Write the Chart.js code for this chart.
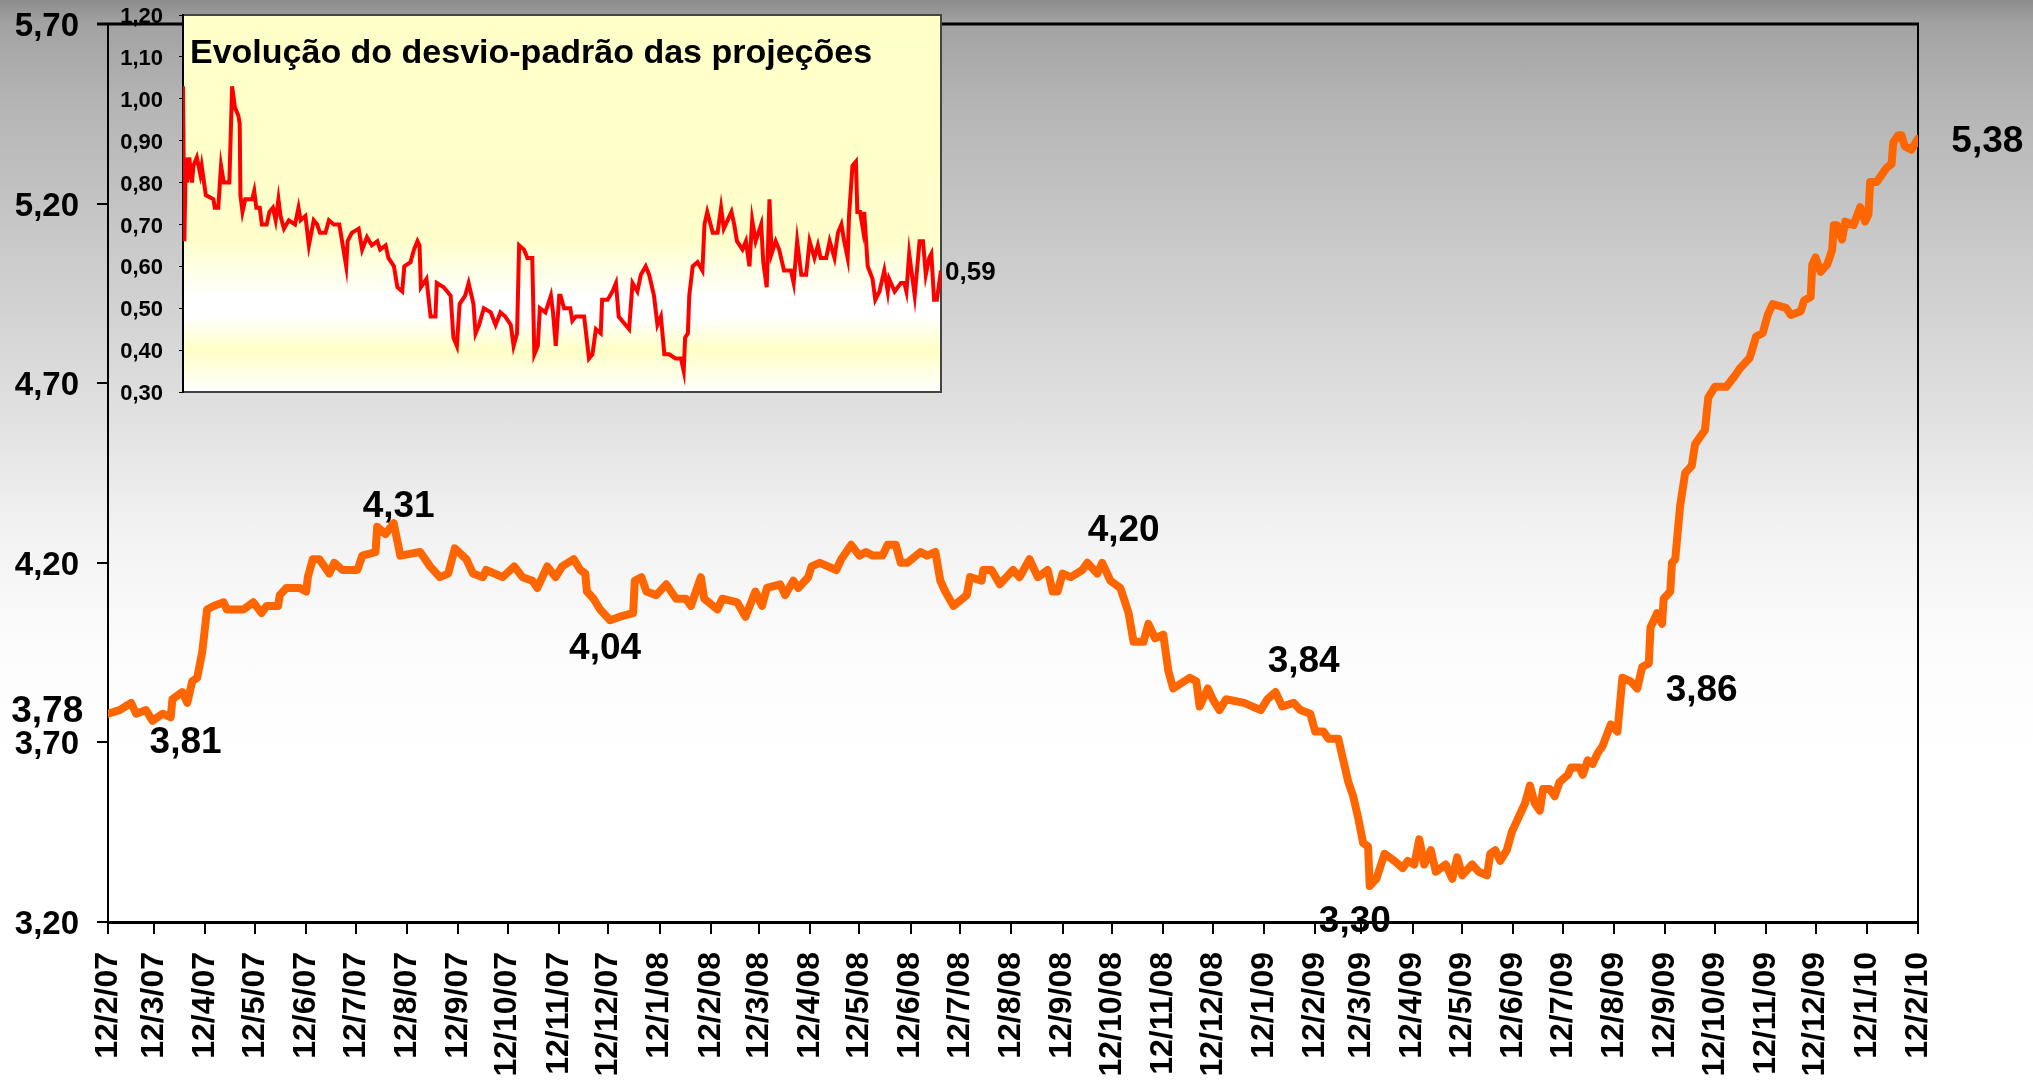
<!DOCTYPE html>
<html>
<head>
<meta charset="utf-8">
<script src="https://cdn.jsdelivr.net/npm/chart.js@4.4.0/dist/chart.umd.min.js"></script>
<style>
  html, body { margin: 0; padding: 0; }
  body {
    width: 2033px; height: 1086px; position: relative; overflow: hidden;
    background: linear-gradient(to bottom, #8c8c8c 0px, #a2a2a2 23px, #b4b4b4 100px, #c8c8c8 233px,
      #e1e1e1 417px, #f2f2f2 530px, #fcfcfc 650px, #ffffff 760px);
  }
  canvas { position: absolute; left: 0; top: 0; }
</style>
</head>
<body>
<canvas id="main" width="2033" height="1086"></canvas>
<canvas id="inset" width="1000" height="420"></canvas>
<script>
// dias contados a partir de 12/2/07
const tickLabels = ['12/2/07', '12/3/07', '12/4/07', '12/5/07', '12/6/07', '12/7/07', '12/8/07', '12/9/07',
    '12/10/07', '12/11/07', '12/12/07', '12/1/08', '12/2/08', '12/3/08', '12/4/08', '12/5/08', '12/6/08',
    '12/7/08', '12/8/08', '12/9/08', '12/10/08', '12/11/08', '12/12/08', '12/1/09', '12/2/09', '12/3/09',
    '12/4/09', '12/5/09', '12/6/09', '12/7/09', '12/8/09', '12/9/09', '12/10/09', '12/11/09', '12/12/09',
    '12/1/10', '12/2/10'];
const yTicks = [3.2, 3.7, 4.2, 4.7, 5.2, 5.7];
const devTicks = [0.3, 0.4, 0.5, 0.6, 0.7, 0.8, 0.9, 1.0, 1.1, 1.2];

// projeção (linha laranja)
const mainDays = [0, 7, 14, 17, 23, 27, 33, 38, 39, 45, 48, 51, 54, 57, 59, 60, 64, 70, 72, 82, 88, 93, 96, 103,
    104, 108, 116, 120, 121, 124, 128, 134, 137, 142, 151, 154, 162, 163, 168, 173, 177, 189, 195, 201, 206,
    210, 217, 221, 227, 229, 239, 246, 251, 257, 260, 266, 271, 275, 282, 286, 289, 290, 294, 298, 304, 310,
    318, 319, 323, 326, 332, 338, 344, 350, 353, 359, 361, 369, 372, 381, 386, 392, 396, 399, 407, 410, 415,
    418, 424, 426, 431, 441, 444, 450, 455, 459, 463, 469, 472, 477, 480, 484, 492, 496, 501, 504, 507, 512,
    520, 522, 529, 530, 535, 540, 548, 552, 558, 563, 569, 572, 575, 578, 583, 590, 593, 599, 602, 607, 613,
    618, 621, 627, 630, 634, 639, 642, 645, 655, 659, 661, 666, 669, 673, 677, 688, 698, 702, 707, 711, 718,
    722, 728, 731, 736, 739, 745, 748, 751, 754, 757, 760, 763, 764, 768, 773, 779, 784, 787, 791, 794, 797,
    801, 804, 810, 814, 817, 820, 826, 830, 835, 837, 840, 843, 847, 850, 855, 858, 861, 864, 867, 869, 873,
    876, 879, 884, 886, 891, 893, 896, 899, 902, 905, 910, 914, 917, 922, 926, 929, 933, 934, 938, 941, 942,
    946, 947, 949, 952, 955, 959, 961, 964, 967, 969, 973, 980, 985, 988, 994, 998, 1002, 1005, 1008, 1016,
    1019, 1025, 1027, 1031, 1032, 1034, 1037, 1041, 1044, 1045, 1047, 1050, 1052, 1057, 1061, 1064, 1066,
    1067, 1071, 1074, 1077, 1080, 1081, 1084, 1086, 1088, 1092, 1096];
const mainValues = [3.78, 3.79, 3.81, 3.78, 3.79, 3.76, 3.78, 3.77, 3.82, 3.84, 3.81, 3.87, 3.88, 3.95, 4.03,
    4.07, 4.08, 4.09, 4.07, 4.07, 4.09, 4.06, 4.08, 4.08, 4.11, 4.13, 4.13, 4.12, 4.16, 4.21, 4.21, 4.17, 4.20,
    4.18, 4.18, 4.22, 4.23, 4.30, 4.28, 4.31, 4.22, 4.23, 4.19, 4.16, 4.17, 4.24, 4.21, 4.17, 4.16, 4.18, 4.16,
    4.19, 4.16, 4.15, 4.13, 4.19, 4.16, 4.19, 4.21, 4.18, 4.17, 4.12, 4.10, 4.07, 4.04, 4.05, 4.06, 4.15, 4.16,
    4.12, 4.11, 4.14, 4.10, 4.10, 4.08, 4.16, 4.10, 4.07, 4.10, 4.09, 4.05, 4.12, 4.08, 4.13, 4.14, 4.11, 4.15,
    4.13, 4.16, 4.19, 4.20, 4.18, 4.21, 4.25, 4.22, 4.23, 4.22, 4.22, 4.25, 4.25, 4.20, 4.20, 4.23, 4.22, 4.23,
    4.15, 4.12, 4.08, 4.11, 4.16, 4.15, 4.18, 4.18, 4.14, 4.18, 4.16, 4.21, 4.16, 4.18, 4.12, 4.12, 4.17, 4.16,
    4.18, 4.20, 4.17, 4.20, 4.15, 4.13, 4.06, 3.98, 3.98, 4.03, 3.99, 4.00, 3.90, 3.85, 3.88, 3.87, 3.80, 3.85,
    3.82, 3.79, 3.82, 3.81, 3.79, 3.82, 3.84, 3.80, 3.81, 3.79, 3.78, 3.73, 3.73, 3.71, 3.71, 3.65, 3.59, 3.55,
    3.49, 3.42, 3.41, 3.30, 3.32, 3.39, 3.37, 3.35, 3.37, 3.36, 3.43, 3.36, 3.40, 3.34, 3.36, 3.32, 3.38, 3.33,
    3.36, 3.34, 3.33, 3.39, 3.40, 3.37, 3.40, 3.45, 3.50, 3.53, 3.58, 3.53, 3.51, 3.57, 3.57, 3.55, 3.59, 3.61,
    3.63, 3.63, 3.61, 3.65, 3.64, 3.67, 3.69, 3.75, 3.73, 3.88, 3.87, 3.85, 3.91, 3.92, 4.02, 4.06, 4.03, 4.10,
    4.12, 4.20, 4.21, 4.36, 4.45, 4.47, 4.53, 4.55, 4.57, 4.66, 4.69, 4.69, 4.72, 4.74, 4.77, 4.83, 4.84, 4.89,
    4.92, 4.91, 4.89, 4.90, 4.93, 4.94, 5.03, 5.05, 5.01, 5.03, 5.07, 5.14, 5.14, 5.10, 5.15, 5.14, 5.19, 5.15,
    5.17, 5.26, 5.26, 5.28, 5.30, 5.31, 5.37, 5.39, 5.39, 5.36, 5.35, 5.38];

// desvio-padrão (linha vermelha do quadro)
const devDays = [0, 2, 4, 6, 9, 13, 15, 20, 25, 27, 33, 44, 46, 51, 55, 59, 67, 71, 75, 80, 82, 83, 86, 90, 100,
    103, 106, 111, 114, 121, 125, 130, 134, 138, 141, 146, 153, 162, 167, 170, 177, 182, 189, 194, 198, 206,
    211, 218, 226, 230, 236, 238, 244, 254, 259, 266, 273, 281, 285, 293, 297, 305, 310, 317, 320, 329, 334,
    339, 342, 344, 352, 358, 365, 367, 377, 382, 387, 391, 396, 400, 408, 413, 420, 423, 428, 435, 445, 452,
    459, 466, 474, 478, 483, 486, 493, 498, 505, 508, 513, 516, 524, 532, 535, 539, 544, 546, 551, 560, 563,
    568, 580, 587, 592, 597, 604, 606, 614, 621, 626, 630, 640, 645, 650, 657, 662, 669, 674, 681, 686, 691,
    696, 703, 712, 720, 724, 726, 730, 732, 737, 744, 751, 754, 758, 766, 773, 778, 782, 793, 797, 801, 809,
    814, 819, 823, 828, 836, 839, 844, 848, 851, 857, 862, 869, 879, 883, 888, 894, 901, 906, 913, 918, 922,
    930, 935, 942, 947, 952, 956, 961, 963, 968, 973, 975, 979, 983, 985, 990, 997, 1001, 1007, 1014, 1019,
    1021, 1029, 1038, 1043, 1046, 1050, 1058, 1065, 1070, 1074, 1079, 1082, 1086, 1090, 1096];
const devValues = [1.03, 0.66, 0.86, 0.80, 0.86, 0.80, 0.84, 0.86, 0.82, 0.84, 0.77, 0.76, 0.74, 0.74, 0.84,
    0.80, 0.80, 1.03, 0.98, 0.96, 0.94, 0.77, 0.73, 0.76, 0.76, 0.78, 0.74, 0.74, 0.70, 0.70, 0.73, 0.74, 0.71,
    0.76, 0.72, 0.69, 0.71, 0.70, 0.74, 0.71, 0.72, 0.65, 0.71, 0.70, 0.68, 0.68, 0.71, 0.70, 0.70, 0.66, 0.60,
    0.66, 0.68, 0.69, 0.64, 0.67, 0.65, 0.66, 0.64, 0.65, 0.62, 0.60, 0.55, 0.54, 0.60, 0.61, 0.64, 0.66, 0.65,
    0.55, 0.57, 0.48, 0.48, 0.56, 0.55, 0.54, 0.53, 0.43, 0.41, 0.51, 0.53, 0.56, 0.51, 0.44, 0.46, 0.50, 0.49,
    0.46, 0.49, 0.48, 0.46, 0.41, 0.44, 0.65, 0.64, 0.62, 0.62, 0.39, 0.41, 0.50, 0.49, 0.53, 0.49, 0.41, 0.53,
    0.53, 0.50, 0.50, 0.47, 0.48, 0.48, 0.38, 0.39, 0.45, 0.44, 0.52, 0.52, 0.54, 0.56, 0.48, 0.46, 0.45, 0.56,
    0.54, 0.58, 0.60, 0.58, 0.53, 0.46, 0.48, 0.39, 0.39, 0.38, 0.38, 0.35, 0.43, 0.44, 0.53, 0.60, 0.61, 0.59,
    0.70, 0.73, 0.68, 0.68, 0.74, 0.69, 0.73, 0.70, 0.66, 0.64, 0.66, 0.60, 0.71, 0.66, 0.70, 0.61, 0.55, 0.76,
    0.63, 0.66, 0.64, 0.59, 0.59, 0.56, 0.66, 0.58, 0.58, 0.66, 0.62, 0.65, 0.62, 0.62, 0.66, 0.62, 0.68, 0.70,
    0.66, 0.62, 0.72, 0.84, 0.85, 0.73, 0.73, 0.69, 0.73, 0.60, 0.57, 0.52, 0.54, 0.59, 0.54, 0.57, 0.54, 0.56,
    0.56, 0.54, 0.63, 0.53, 0.66, 0.66, 0.58, 0.62, 0.63, 0.52, 0.52, 0.59];

// rótulos de destaque: posição em (dia, valor)
const notes = [
    { text: '3,78', day: -15, value: 3.785, align: 'right' },
    { text: '3,81', day: 47, value: 3.70, align: 'center' },
    { text: '4,31', day: 176, value: 4.357, align: 'center' },
    { text: '4,04', day: 301, value: 3.96, align: 'center' },
    { text: '4,20', day: 615, value: 4.29, align: 'center' },
    { text: '3,84', day: 724, value: 3.925, align: 'center' },
    { text: '3,30', day: 755, value: 3.20, align: 'center' },
    { text: '3,86', day: 965, value: 3.845, align: 'center' },
    { text: '5,38', day: 1138, value: 5.373, align: 'center' }
];

const FONT = "'Liberation Sans', Arial, sans-serif";
const t0 = Date.UTC(2007, 1, 12);
const tickDays = tickLabels.map(s => {
    const [d, m, y] = s.split('/').map(Number);
    return Math.round((Date.UTC(2000 + y, m - 1, d) - t0) / 86400000);
});
const fmt = v => v.toFixed(2).replace('.', ',');

// a área do gráfico fica só com o padding do layout
function fixWidth(w) {
    return s => { s.width = w; s.paddingTop = 0; s.paddingBottom = 0; };
}

const mainFrame = {
    id: 'mainFrame',
    beforeDatasetsDraw(chart) {
        const a = chart.chartArea, ctx = chart.ctx;
        ctx.save();
        ctx.strokeStyle = '#000';
        ctx.lineWidth = 3;
        ctx.beginPath();
        ctx.moveTo(a.left - 11, a.top);
        ctx.lineTo(a.right + 1, a.top);
        ctx.stroke();
        ctx.lineWidth = 2;
        ctx.beginPath();
        ctx.moveTo(a.right, a.top);
        ctx.lineTo(a.right, a.bottom);
        ctx.stroke();
        ctx.restore();
    },
    afterDatasetsDraw(chart) {
        const ctx = chart.ctx, xs = chart.scales.x, ys = chart.scales.y;
        ctx.save();
        ctx.fillStyle = '#000';
        ctx.font = 'bold 37px ' + FONT;
        ctx.textBaseline = 'middle';
        notes.forEach(n => {
            ctx.textAlign = n.align;
            ctx.fillText(n.text, xs.getPixelForValue(n.day), ys.getPixelForValue(n.value));
        });
        ctx.restore();
    }
};

new Chart(document.getElementById('main'), {
    type: 'line',
    data: {
        datasets: [{
            data: mainDays.map((d, i) => ({ x: d, y: mainValues[i] })),
            borderColor: '#FF6600',
            borderWidth: 8,
            pointRadius: 0,
            tension: 0,
            borderJoinStyle: 'round',
            borderCapStyle: 'round'
        }]
    },
    options: {
        responsive: false,
        animation: false,
        events: [],
        layout: { padding: { left: 0, right: 115, top: 24, bottom: 0 } },
        plugins: { legend: { display: false }, tooltip: { enabled: false } },
        scales: {
            x: {
                type: 'linear', min: 0, max: 1096,
                afterBuildTicks: s => { s.ticks = tickDays.map(v => ({ value: v })); },
                afterFit: s => { s.height = 164; },
                ticks: {
                    autoSkip: false, minRotation: 90, maxRotation: 90, padding: 18, color: '#000',
                    font: { family: FONT, size: 32, weight: 'bold' },
                    callback: (v, i) => tickLabels[i]
                },
                grid: { drawOnChartArea: false, tickLength: 12, color: '#000', lineWidth: 2 },
                border: { color: '#000', width: 3 }
            },
            y: {
                type: 'linear', min: 3.2, max: 5.7,
                afterBuildTicks: s => { s.ticks = yTicks.map(v => ({ value: v })); },
                afterFit: fixWidth(108),
                ticks: {
                    padding: 18, labelOffset: 3, color: '#000',
                    font: { family: FONT, size: 33, weight: 'bold' },
                    callback: v => fmt(v)
                },
                grid: { drawOnChartArea: false, tickLength: 11, color: '#000', lineWidth: 2 },
                border: { color: '#000', width: 2 }
            }
        }
    },
    plugins: [mainFrame]
});

const insetDeco = {
    id: 'insetDeco',
    beforeDraw(chart) {
        const a = chart.chartArea, ctx = chart.ctx;
        const g = ctx.createLinearGradient(0, a.top, 0, a.bottom);
        g.addColorStop(0, '#FFFFC8');
        g.addColorStop(0.6, '#FFFFCC');
        g.addColorStop(0.75, '#FFFFFF');
        g.addColorStop(0.8, '#FFFFFF');
        g.addColorStop(0.89, '#FFFFC6');
        g.addColorStop(1, '#FFFFFF');
        ctx.save();
        ctx.fillStyle = g;
        ctx.fillRect(a.left, a.top, a.right - a.left, a.bottom - a.top);
        ctx.strokeStyle = '#444';
        ctx.lineWidth = 2;
        ctx.strokeRect(a.left, a.top, a.right - a.left, a.bottom - a.top);
        ctx.fillStyle = '#000';
        ctx.font = 'bold 34px ' + FONT;
        ctx.textAlign = 'left';
        ctx.textBaseline = 'alphabetic';
        ctx.fillText('Evolução do desvio-padrão das projeções', a.left + 7, a.top + 48);
        ctx.restore();
    },
    afterDatasetsDraw(chart) {
        const ctx = chart.ctx, xs = chart.scales.x, ys = chart.scales.y;
        const last = devValues.length - 1;
        ctx.save();
        ctx.fillStyle = '#000';
        ctx.font = 'bold 26px ' + FONT;
        ctx.textAlign = 'left';
        ctx.textBaseline = 'middle';
        ctx.fillText(fmt(devValues[last]), xs.getPixelForValue(devDays[last]) + 4, ys.getPixelForValue(devValues[last]) + 2);
        ctx.restore();
    }
};

new Chart(document.getElementById('inset'), {
    type: 'line',
    data: {
        datasets: [{
            data: devDays.map((d, i) => ({ x: d, y: devValues[i] })),
            borderColor: '#FF0000',
            borderWidth: 4,
            pointRadius: 0,
            tension: 0
        }]
    },
    options: {
        responsive: false,
        animation: false,
        events: [],
        layout: { padding: { left: 0, right: 59, top: 15, bottom: 28 } },
        plugins: { legend: { display: false }, tooltip: { enabled: false } },
        scales: {
            x: { type: 'linear', min: 0, max: 1096, display: false },
            y: {
                type: 'linear', min: 0.3, max: 1.2,
                afterBuildTicks: s => { s.ticks = devTicks.map(v => ({ value: v })); },
                afterFit: fixWidth(183),
                ticks: {
                    padding: 16, labelOffset: 2, color: '#000',
                    font: { family: FONT, size: 22, weight: 'bold' },
                    callback: v => fmt(v)
                },
                grid: { drawOnChartArea: false, tickLength: 4, color: '#000', lineWidth: 1 },
                border: { color: '#000', width: 2 }
            }
        }
    },
    plugins: [insetDeco]
});
</script>
</body>
</html>
